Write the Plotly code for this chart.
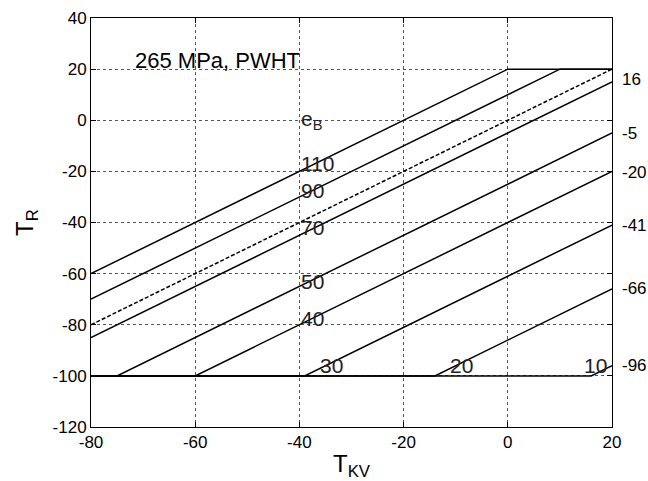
import plotly.graph_objects as go

# Curve breakpoints (T_KV, T_R)
curve_names = ["110", "90", "dashed", "70", "50", "40", "30", "20", "10"]
curve_x = [
    [-80, 0, 20],
    [-80, 10, 20],
    [-80, 20],
    [-80, 20],
    [-80, -75, 20],
    [-80, -60, 20],
    [-80, -39, 20],
    [-80, -14, 20],
    [-80, 16, 20],
]
curve_y = [
    [-60, 20, 20],
    [-70, 20, 20],
    [-80, 20],
    [-85, 15],
    [-100, -100, -5],
    [-100, -100, -20],
    [-100, -100, -41],
    [-100, -100, -66],
    [-100, -100, -96],
]
curve_dash = ["solid", "solid", "4px,2px", "solid", "solid", "solid", "solid", "solid", "solid"]

# Labels inside the plot (e_B values)
eb_labels = ["110", "90", "70", "50", "40", "30", "20", "10"]
eb_x = [-40, -40, -40, -40, -40, -36.5, -11.5, 14.3]
eb_y = [-17, -27.5, -42, -63, -77.5, -96, -96, -96]

# Labels on the right edge
right_labels = ["16", "-5", "-20", "-41", "-66", "-96"]
right_y = [16, -5, -20.5, -41, -66, -96]

x_ticks = [-80, -60, -40, -20, 0, 20]
x_ticktext = ["-80", "-60", "-40", "-20", "0", "20"]
y_ticks = [-120, -100, -80, -60, -40, -20, 0, 20, 40]
y_ticktext = ["-120", "-100", "-80", "-60", "-40", "-20", "0", "20", "40"]

FONT = "Liberation Sans, Arial, sans-serif"

fig = go.Figure()
for xs, ys, d in zip(curve_x, curve_y, curve_dash):
    fig.add_trace(go.Scatter(x=xs, y=ys, mode="lines",
                             line=dict(color="black", width=1.5, dash=d),
                             showlegend=False, hoverinfo="skip"))

annotations = []
for t, x, y in zip(eb_labels, eb_x, eb_y):
    annotations.append(dict(x=x, y=y, text=t, showarrow=False, xanchor="left",
                            yanchor="middle", font=dict(family=FONT, size=21, color="#222")))
annotations.append(dict(x=-40, y=0, text="e<sub>B</sub>", showarrow=False, xanchor="left",
                        yanchor="middle", font=dict(family=FONT, size=21, color="#222")))
annotations.append(dict(x=-55.7, y=23.5, text="265 MPa, PWHT", showarrow=False,
                        xanchor="center", yanchor="middle",
                        font=dict(family=FONT, size=22, color="black")))
for t, y in zip(right_labels, right_y):
    annotations.append(dict(x=20, y=y, text=t, showarrow=False, xanchor="left",
                            yanchor="middle", xshift=8,
                            font=dict(family=FONT, size=17, color="black")))

axis_common = dict(showgrid=True, gridcolor="#555", gridwidth=1, griddash="dot",
                   zeroline=False, showline=True, linecolor="black", linewidth=1,
                   mirror="ticks", ticks="inside", ticklen=5, tickcolor="black",
                   automargin=False,
                   tickfont=dict(family=FONT, size=17, color="black"))

fig.update_layout(
    width=648, height=481,
    margin=dict(l=91, r=36, t=18, b=54),
    paper_bgcolor="white", plot_bgcolor="white",
    xaxis=dict(range=[-80, 20], tickvals=x_ticks, ticktext=x_ticktext,
               title=dict(text="T<sub>KV</sub>", standoff=6,
                          font=dict(family=FONT, size=24, color="black")),
               **axis_common),
    yaxis=dict(range=[-120, 40], tickvals=y_ticks, ticktext=y_ticktext,
               title=dict(text="T<sub>R</sub>", standoff=12,
                          font=dict(family=FONT, size=24, color="black")),
               **axis_common),
    annotations=annotations,
    showlegend=False,
)

fig.write_html("out.html")
